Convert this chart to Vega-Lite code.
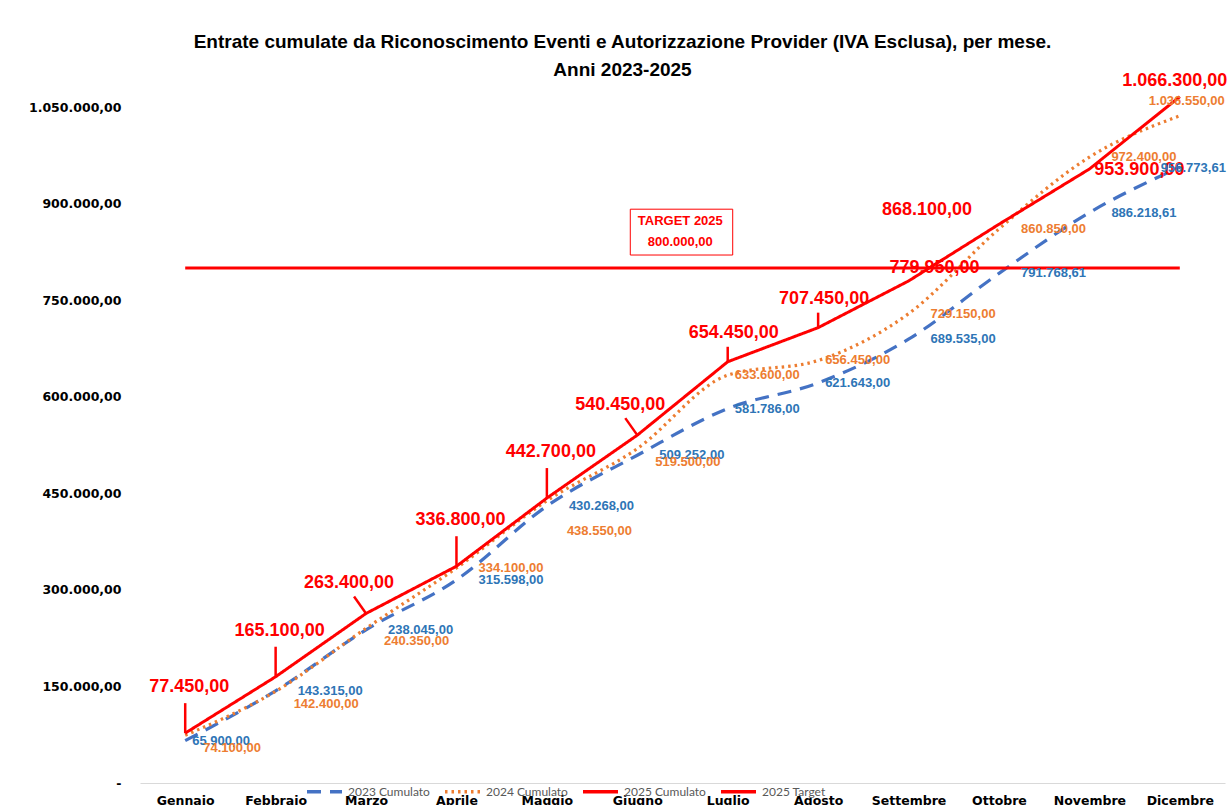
{
  "$schema": "https://vega.github.io/schema/vega-lite/v6.json",
  "width": 1085,
  "height": 708,
  "autosize": {"type": "none"},
  "padding": {"left": 140, "top": 75, "right": 6, "bottom": 22},
  "background": "white",
  "config": {
    "locale": {"number": {"decimal": ",", "thousands": ".", "grouping": [3], "currency": ["€", ""]}},
    "view": {"stroke": null},
    "font": "Liberation Sans",
    "legend": {
      "orient": "none",
      "legendX": 165,
      "legendY": 697,
      "direction": "horizontal",
      "symbolType": "stroke",
      "symbolSize": 1225,
      "symbolStrokeWidth": 3.5,
      "labelFontSize": 12,
      "labelColor": "#595959",
      "labelFont": "Lato",
      "labelOffset": 4,
      "columnPadding": 8,
      "padding": 0,
      "title": null
    }
  },
  "title": {
    "text": ["Entrate cumulate da Riconoscimento Eventi e Autorizzazione Provider (IVA Esclusa), per mese.", "Anni 2023-2025"],
    "font": "Liberation Sans",
    "fontSize": 19,
    "fontWeight": "bold",
    "color": "#000000",
    "anchor": "middle",
    "dx": -60,
    "offset": -8,
    "lineHeight": 28
  },
  "datasets": {
    "cum": [
      {"mese": "Gennaio", "serie": "2023 Cumulato", "valore": 65900},
      {"mese": "Febbraio", "serie": "2023 Cumulato", "valore": 143315},
      {"mese": "Marzo", "serie": "2023 Cumulato", "valore": 238045},
      {"mese": "Aprile", "serie": "2023 Cumulato", "valore": 315598},
      {"mese": "Maggio", "serie": "2023 Cumulato", "valore": 430268},
      {"mese": "Giugno", "serie": "2023 Cumulato", "valore": 509252},
      {"mese": "Luglio", "serie": "2023 Cumulato", "valore": 581786},
      {"mese": "Agosto", "serie": "2023 Cumulato", "valore": 621643},
      {"mese": "Settembre", "serie": "2023 Cumulato", "valore": 689535},
      {"mese": "Ottobre", "serie": "2023 Cumulato", "valore": 791768.61},
      {"mese": "Novembre", "serie": "2023 Cumulato", "valore": 886218.61},
      {"mese": "Dicembre", "serie": "2023 Cumulato", "valore": 956773.61},
      {"mese": "Gennaio", "serie": "2024 Cumulato", "valore": 74100},
      {"mese": "Febbraio", "serie": "2024 Cumulato", "valore": 142400},
      {"mese": "Marzo", "serie": "2024 Cumulato", "valore": 240350},
      {"mese": "Aprile", "serie": "2024 Cumulato", "valore": 334100},
      {"mese": "Maggio", "serie": "2024 Cumulato", "valore": 438550},
      {"mese": "Giugno", "serie": "2024 Cumulato", "valore": 519500},
      {"mese": "Luglio", "serie": "2024 Cumulato", "valore": 633600},
      {"mese": "Agosto", "serie": "2024 Cumulato", "valore": 656450},
      {"mese": "Settembre", "serie": "2024 Cumulato", "valore": 729150},
      {"mese": "Ottobre", "serie": "2024 Cumulato", "valore": 860850},
      {"mese": "Novembre", "serie": "2024 Cumulato", "valore": 972400},
      {"mese": "Dicembre", "serie": "2024 Cumulato", "valore": 1036550},
      {"mese": "Gennaio", "serie": "2025 Cumulato", "valore": 77450},
      {"mese": "Febbraio", "serie": "2025 Cumulato", "valore": 165100},
      {"mese": "Marzo", "serie": "2025 Cumulato", "valore": 263400},
      {"mese": "Aprile", "serie": "2025 Cumulato", "valore": 336800},
      {"mese": "Maggio", "serie": "2025 Cumulato", "valore": 442700},
      {"mese": "Giugno", "serie": "2025 Cumulato", "valore": 540450},
      {"mese": "Luglio", "serie": "2025 Cumulato", "valore": 654450},
      {"mese": "Agosto", "serie": "2025 Cumulato", "valore": 707450},
      {"mese": "Settembre", "serie": "2025 Cumulato", "valore": 779950},
      {"mese": "Ottobre", "serie": "2025 Cumulato", "valore": 868100},
      {"mese": "Novembre", "serie": "2025 Cumulato", "valore": 953900},
      {"mese": "Dicembre", "serie": "2025 Cumulato", "valore": 1066300},
      {"mese": "Gennaio", "serie": "2025 Target", "valore": 800000},
      {"mese": "Dicembre", "serie": "2025 Target", "valore": 800000}
    ],
    "target": [
      {"mese": "Giugno", "mese2": "Luglio", "etichetta": "TARGET 2025", "valore": 800000}
    ]
  },
  "data": {"name": "cum"},
  "encoding": {
    "x": {
      "field": "mese",
      "type": "ordinal",
      "sort": ["Gennaio", "Febbraio", "Marzo", "Aprile", "Maggio", "Giugno", "Luglio", "Agosto", "Settembre", "Ottobre", "Novembre", "Dicembre"],
      "scale": {"type": "point", "padding": 0.5, "domain": ["Gennaio", "Febbraio", "Marzo", "Aprile", "Maggio", "Giugno", "Luglio", "Agosto", "Settembre", "Ottobre", "Novembre", "Dicembre"]},
      "axis": {
        "title": null,
        "labelAngle": 0,
        "ticks": false,
        "domainColor": "#D9D9D9",
        "domainWidth": 1,
        "labelFont": "DejaVu Sans",
        "labelFontWeight": "bold",
        "labelFontSize": 12.5,
        "labelColor": "#000000",
        "labelPadding": 11,
        "grid": false
      }
    },
    "y": {
      "field": "valore",
      "type": "quantitative",
      "scale": {"domain": [0, 1100000], "nice": false},
      "axis": {
        "title": null,
        "values": [0, 150000, 300000, 450000, 600000, 750000, 900000, 1050000],
        "labelExpr": "datum.value == 0 ? '-' : format(datum.value, ',.2f')",
        "ticks": false,
        "domain": false,
        "grid": false,
        "labelPadding": 19,
        "labelFont": "DejaVu Sans",
        "labelFontWeight": "bold",
        "labelFontSize": 12.5,
        "labelColor": "#000000"
      }
    }
  },
  "layer": [
    {
      "transform": [{"filter": {"field": "serie", "oneOf": ["2023 Cumulato", "2024 Cumulato"]}}],
      "mark": {"type": "line", "interpolate": "monotone", "strokeWidth": 3.2},
      "encoding": {
        "color": {
          "field": "serie",
          "type": "nominal",
          "scale": {"domain": ["2023 Cumulato", "2024 Cumulato", "2025 Cumulato", "2025 Target"], "range": ["#4472C4", "#ED7D31", "#FF0000", "#FF0000"]},
          "legend": {"title": null}
        },
        "strokeDash": {
          "field": "serie",
          "type": "nominal",
          "scale": {"domain": ["2023 Cumulato", "2024 Cumulato", "2025 Cumulato", "2025 Target"], "range": [[14, 9], [2.5, 4], [1, 0], [1, 0]]},
          "legend": {"title": null}
        }
      }
    },
    {
      "transform": [{"filter": {"field": "serie", "oneOf": ["2025 Cumulato", "2025 Target"]}}],
      "mark": {"type": "line", "interpolate": "linear", "strokeWidth": 3},
      "encoding": {
        "color": {"field": "serie", "type": "nominal", "legend": {"title": null}},
        "strokeDash": {"field": "serie", "type": "nominal", "legend": {"title": null}}
      }
    },
    {
      "data": {"name": "target"},
      "mark": {"type": "rect", "fill": "white", "stroke": "#FF0000", "strokeWidth": 1, "xOffset": -7, "x2Offset": 5},
      "encoding": {
        "x2": {"field": "mese2"},
        "y": {"datum": 891500, "type": "quantitative"},
        "y2": {"datum": 820300}
      }
    },
    {
      "data": {"name": "target"},
      "mark": {"type": "text", "font": "Liberation Sans", "fontSize": 13, "fontWeight": "bold", "color": "#FF0000", "align": "center", "baseline": "middle", "dx": 43, "dy": -11},
      "encoding": {
        "y": {"datum": 855300, "type": "quantitative"},
        "text": {"field": "etichetta", "type": "nominal"}
      }
    },
    {
      "data": {"name": "target"},
      "mark": {"type": "text", "font": "Liberation Sans", "fontSize": 13, "fontWeight": "bold", "color": "#FF0000", "align": "center", "baseline": "middle", "dx": 43, "dy": 10},
      "encoding": {
        "y": {"datum": 855300, "type": "quantitative"},
        "text": {"field": "valore", "type": "quantitative", "format": ",.2f"}
      }
    },
    {
      "transform": [{"filter": {"field": "serie", "equal": "2025 Cumulato"}}, {"filter": {"field": "mese", "oneOf": ["Gennaio", "Febbraio", "Aprile", "Maggio"]}}],
      "mark": {"type": "rule", "color": "#FF0000", "strokeWidth": 2.5, "y2Offset": -30},
      "encoding": {"y2": {"field": "valore"}}
    },
    {
      "transform": [{"filter": {"field": "serie", "equal": "2025 Cumulato"}}, {"filter": {"field": "mese", "oneOf": ["Marzo", "Giugno"]}}],
      "mark": {"type": "rule", "color": "#FF0000", "strokeWidth": 2.5, "y2Offset": -17, "x2Offset": -12},
      "encoding": {"y2": {"field": "valore"}, "x2": {"field": "mese"}}
    },
    {
      "transform": [{"filter": {"field": "serie", "equal": "2025 Cumulato"}}, {"filter": {"field": "mese", "oneOf": ["Luglio", "Agosto"]}}],
      "mark": {"type": "rule", "color": "#FF0000", "strokeWidth": 2.5, "y2Offset": -15},
      "encoding": {"y2": {"field": "valore"}}
    },
    {
      "transform": [{"filter": {"field": "serie", "equal": "2025 Cumulato"}}, {"filter": {"field": "mese", "oneOf": ["Gennaio", "Febbraio", "Aprile", "Maggio"]}}],
      "mark": {"type": "text", "fontSize": 18, "fontWeight": "bold", "color": "#FF0000", "align": "center", "baseline": "middle", "dx": 4, "dy": -46},
      "encoding": {"text": {"field": "valore", "type": "quantitative", "format": ",.2f"}}
    },
    {
      "transform": [{"filter": {"field": "serie", "equal": "2025 Cumulato"}}, {"filter": {"field": "mese", "oneOf": ["Marzo", "Giugno"]}}],
      "mark": {"type": "text", "fontSize": 18, "fontWeight": "bold", "color": "#FF0000", "align": "center", "baseline": "middle", "dx": -17, "dy": -30},
      "encoding": {"text": {"field": "valore", "type": "quantitative", "format": ",.2f"}}
    },
    {
      "transform": [{"filter": {"field": "serie", "equal": "2025 Cumulato"}}, {"filter": {"field": "mese", "oneOf": ["Luglio", "Agosto"]}}],
      "mark": {"type": "text", "fontSize": 18, "fontWeight": "bold", "color": "#FF0000", "align": "center", "baseline": "middle", "dx": 6, "dy": -29},
      "encoding": {"text": {"field": "valore", "type": "quantitative", "format": ",.2f"}}
    },
    {
      "transform": [{"filter": {"field": "serie", "equal": "2025 Cumulato"}}, {"filter": {"field": "mese", "equal": "Settembre"}}],
      "mark": {"type": "text", "fontSize": 18, "fontWeight": "bold", "color": "#FF0000", "align": "center", "baseline": "middle", "dx": 26, "dy": -13},
      "encoding": {"text": {"field": "valore", "type": "quantitative", "format": ",.2f"}}
    },
    {
      "transform": [{"filter": {"field": "serie", "equal": "2025 Cumulato"}}, {"filter": {"field": "mese", "equal": "Ottobre"}}],
      "mark": {"type": "text", "fontSize": 18, "fontWeight": "bold", "color": "#FF0000", "align": "center", "baseline": "middle", "dx": -72, "dy": -14},
      "encoding": {"text": {"field": "valore", "type": "quantitative", "format": ",.2f"}}
    },
    {
      "transform": [{"filter": {"field": "serie", "equal": "2025 Cumulato"}}, {"filter": {"field": "mese", "equal": "Novembre"}}],
      "mark": {"type": "text", "fontSize": 18, "fontWeight": "bold", "color": "#FF0000", "align": "center", "baseline": "middle", "dx": 50, "dy": 1},
      "encoding": {"text": {"field": "valore", "type": "quantitative", "format": ",.2f"}}
    },
    {
      "transform": [{"filter": {"field": "serie", "equal": "2025 Cumulato"}}, {"filter": {"field": "mese", "equal": "Dicembre"}}],
      "mark": {"type": "text", "fontSize": 18, "fontWeight": "bold", "color": "#FF0000", "align": "center", "baseline": "middle", "dx": -5, "dy": -16},
      "encoding": {"text": {"field": "valore", "type": "quantitative", "format": ",.2f"}}
    },
    {
      "transform": [{"filter": {"field": "serie", "equal": "2023 Cumulato"}}, {"filter": {"field": "mese", "oneOf": ["Febbraio", "Marzo", "Aprile", "Maggio", "Giugno", "Settembre", "Ottobre", "Novembre"]}}],
      "mark": {"type": "text", "fontSize": 13, "fontWeight": "bold", "color": "#2E75B6", "align": "left", "baseline": "middle", "dx": 22, "dy": 0},
      "encoding": {"text": {"field": "valore", "type": "quantitative", "format": ",.2f"}}
    },
    {
      "transform": [{"filter": {"field": "serie", "equal": "2023 Cumulato"}}, {"filter": {"field": "mese", "oneOf": ["Gennaio", "Luglio", "Agosto"]}}],
      "mark": {"type": "text", "fontSize": 13, "fontWeight": "bold", "color": "#2E75B6", "align": "left", "baseline": "middle", "dx": 7, "dy": 0},
      "encoding": {"text": {"field": "valore", "type": "quantitative", "format": ",.2f"}}
    },
    {
      "transform": [{"filter": {"field": "serie", "equal": "2023 Cumulato"}}, {"filter": {"field": "mese", "equal": "Dicembre"}}],
      "mark": {"type": "text", "fontSize": 13, "fontWeight": "bold", "color": "#2E75B6", "align": "left", "baseline": "middle", "dx": -19, "dy": 1},
      "encoding": {"text": {"field": "valore", "type": "quantitative", "format": ",.2f"}}
    },
    {
      "transform": [{"filter": {"field": "serie", "equal": "2024 Cumulato"}}, {"filter": {"field": "mese", "oneOf": ["Aprile", "Settembre", "Ottobre", "Novembre"]}}],
      "mark": {"type": "text", "fontSize": 13, "fontWeight": "bold", "color": "#ED7D31", "align": "left", "baseline": "middle", "dx": 22, "dy": 0},
      "encoding": {"text": {"field": "valore", "type": "quantitative", "format": ",.2f"}}
    },
    {
      "transform": [{"filter": {"field": "serie", "equal": "2024 Cumulato"}}, {"filter": {"field": "mese", "oneOf": ["Gennaio", "Febbraio", "Marzo", "Giugno"]}}],
      "mark": {"type": "text", "fontSize": 13, "fontWeight": "bold", "color": "#ED7D31", "align": "left", "baseline": "middle", "dx": 18, "dy": 13},
      "encoding": {"text": {"field": "valore", "type": "quantitative", "format": ",.2f"}}
    },
    {
      "transform": [{"filter": {"field": "serie", "equal": "2024 Cumulato"}}, {"filter": {"field": "mese", "equal": "Maggio"}}],
      "mark": {"type": "text", "fontSize": 13, "fontWeight": "bold", "color": "#ED7D31", "align": "left", "baseline": "middle", "dx": 20, "dy": 30},
      "encoding": {"text": {"field": "valore", "type": "quantitative", "format": ",.2f"}}
    },
    {
      "transform": [{"filter": {"field": "serie", "equal": "2024 Cumulato"}}, {"filter": {"field": "mese", "oneOf": ["Luglio", "Agosto"]}}],
      "mark": {"type": "text", "fontSize": 13, "fontWeight": "bold", "color": "#ED7D31", "align": "left", "baseline": "middle", "dx": 7, "dy": 0},
      "encoding": {"text": {"field": "valore", "type": "quantitative", "format": ",.2f"}}
    },
    {
      "transform": [{"filter": {"field": "serie", "equal": "2024 Cumulato"}}, {"filter": {"field": "mese", "equal": "Dicembre"}}],
      "mark": {"type": "text", "fontSize": 13, "fontWeight": "bold", "color": "#ED7D31", "align": "left", "baseline": "middle", "dx": -31, "dy": -15},
      "encoding": {"text": {"field": "valore", "type": "quantitative", "format": ",.2f"}}
    }
  ]
}
